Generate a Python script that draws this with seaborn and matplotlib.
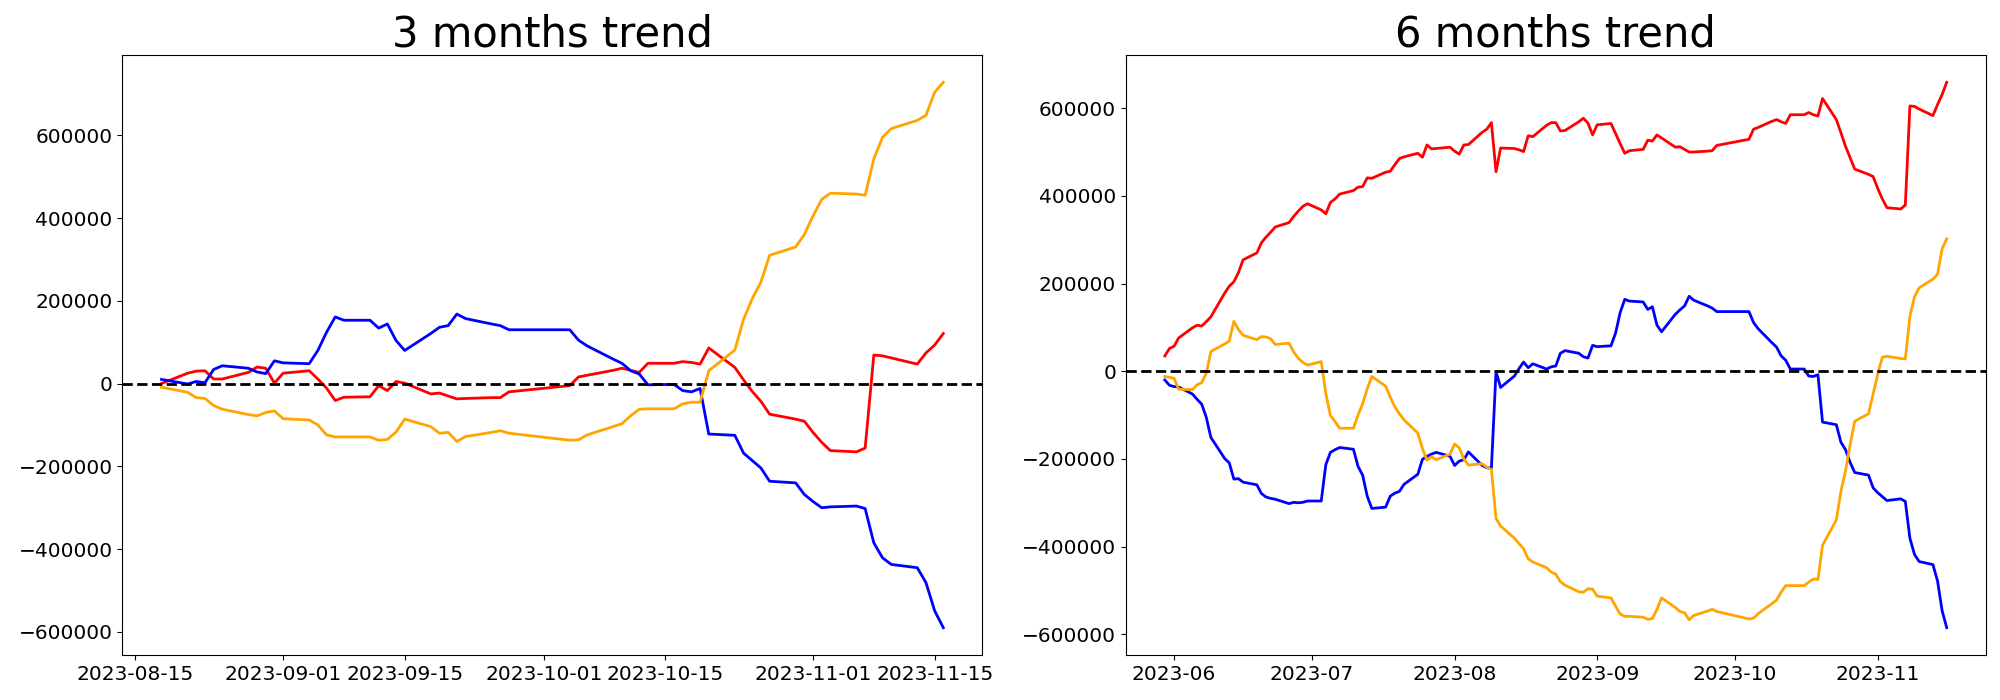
import matplotlib
matplotlib.use("Agg")
import matplotlib.pyplot as plt
import numpy as np
import pandas as pd
import seaborn as sns

# trading days (no data between Sep 27 and Oct 4)
gap_days = ["2023-09-28", "2023-09-29", "2023-10-02", "2023-10-03"]
dates_3m = pd.bdate_range("2023-08-18", "2023-11-16", freq="C", holidays=gap_days)
dates_6m = pd.bdate_range("2023-05-30", "2023-11-16", freq="C", holidays=gap_days)

# --- 3 months trend, values in thousands ---
red_3m = [0, 25, 30, 31, 11, 11, 27, 40, 37, 1,
          25, 31, 11, -11, -41, -33, -32, -5, -17, 5, 1, -25, -23, -30, -37, -36, -34, -34, -20,
          -5, 16, 20, 32, 37, 32, 27, 49, 49, 53, 51, 47, 86, 39, 9, -19, -43, -74, -86, -91,
          -118, -142, -162, -165, -156, 69, 67, 62, 47, 74, 93, 121]
blue_3m = [10, -1, 5, 2, 34, 43, 37, 28, 24, 55,
           50, 48, 80, 124, 161, 153, 153, 134, 144, 104, 80, 121, 136, 140, 168, 157, 144, 140, 130,
           130, 105, 91, 59, 49, 31, 23, -3, -2, -17, -20, -12, -122, -125, -168, -186, -204, -236, -240, -268,
           -285, -300, -298, -296, -302, -385, -421, -437, -445, -481, -549, -590]
orange_3m = [-9, -21, -34, -36, -53, -62, -75, -78, -70, -66,
             -85, -88, -100, -124, -129, -129, -129, -137, -135, -117, -86, -104, -120, -118, -140, -128, -118, -114, -120,
             -137, -136, -124, -104, -97, -78, -62, -61, -61, -49, -45, -45, 31, 81, 155, 205, 245, 310, 330, 360,
             405, 445, 460, 458, 455, 543, 595, 616, 636, 648, 704, 728]

# --- 6 months trend, values in thousands ---
red_6m = [35, 52,
          57, 76, 99, 105, 103, 113, 124, 178, 194, 204, 225, 254, 270, 293, 306, 317, 329, 339, 353, 365, 376, 382,
          368, 359, 385, 393, 404, 412, 420, 421, 441, 440, 454, 456, 471, 485, 489, 497, 488, 516, 507, 508, 511,
          502, 495, 516, 517, 545, 552, 567, 455, 509, 508, 505, 501, 537, 535, 561, 567, 567, 548, 549, 569, 577, 566, 539,
          562, 565, 542, 519, 497, 503, 506, 527, 525, 539, 532, 511, 512, 506, 500, 500, 502, 503, 515,
          529, 552, 556, 570, 574, 569, 565, 585, 585, 590, 585, 582, 622, 574, 544, 513, 487, 461, 449, 444,
          417, 393, 373, 370, 379, 605, 604, 598, 583, 608, 631, 659]
blue_6m = [-20, -32,
           -35, -36, -52, -64, -75, -105, -151, -199, -209, -246, -245, -253, -259, -279, -287, -290, -292, -302, -299, -300, -299, -296,
           -296, -213, -185, -179, -174, -178, -217, -237, -285, -313, -310, -285, -278, -274, -258, -235, -201, -194, -189, -185, -194,
           -215, -205, -202, -184, -215, -220, -221, -1, -37, -11, 6, 21, 8, 17, 5, 10, 12, 41, 47, 41, 33, 30, 59,
           56, 58, 87, 134, 164, 160, 158, 141, 147, 105, 90, 130, 140, 149, 171, 162, 149, 144, 136,
           136, 111, 97, 65, 55, 35, 25, 5, 5, -11, -12, -8, -116, -122, -162, -179, -208, -231, -237, -266,
           -277, -286, -295, -291, -297, -381, -418, -434, -441, -478, -546, -585]
orange_6m = [-12, -14,
             -16, -41, -42, -31, -26, -5, 45, 62, 69, 114, 95, 82, 72, 79, 78, 74, 61, 64, 44, 30, 20, 14,
             22, -51, -101, -115, -130, -130, -100, -74, -40, -12, -34, -59, -81, -97, -111, -141, -176, -203, -195, -202, -189,
             -166, -175, -200, -214, -211, -219, -224, -336, -353, -381, -393, -405, -428, -435, -448, -458, -463, -480, -488, -503, -504, -496, -497,
             -513, -517, -536, -554, -559, -559, -561, -566, -564, -543, -517, -539, -548, -551, -567, -557, -547, -543, -548,
             -565, -563, -553, -530, -522, -504, -489, -489, -489, -481, -474, -475, -397, -339, -274, -227, -167, -114, -97, -52,
             -7, 32, 34, 29, 28, 125, 170, 190, 210, 221, 279, 302]

panels = [
    ("3 months trend", dates_3m, red_3m, blue_3m, orange_3m),
    ("6 months trend", dates_6m, red_6m, blue_6m, orange_6m),
]

fig, axes = plt.subplots(1, 2, figsize=(20, 7))
fig.subplots_adjust(left=0.0612, right=0.9929, bottom=0.0643, top=0.9214, wspace=0.1667)

for ax, (title, dates, red, blue, orange) in zip(axes, panels):
    for vals, colour in [(red, "red"), (blue, "blue"), (orange, "orange")]:
        sns.lineplot(x=dates, y=np.array(vals) * 1000, color=colour, linewidth=2, ax=ax)
    ax.axhline(0, color="black", linestyle="--", linewidth=2)
    ax.set_title(title, fontsize=30)
    ax.set_xlabel("")
    ax.set_ylabel("")
    ax.tick_params(labelsize=14.5)

plt.savefig("out.png", dpi=100)
